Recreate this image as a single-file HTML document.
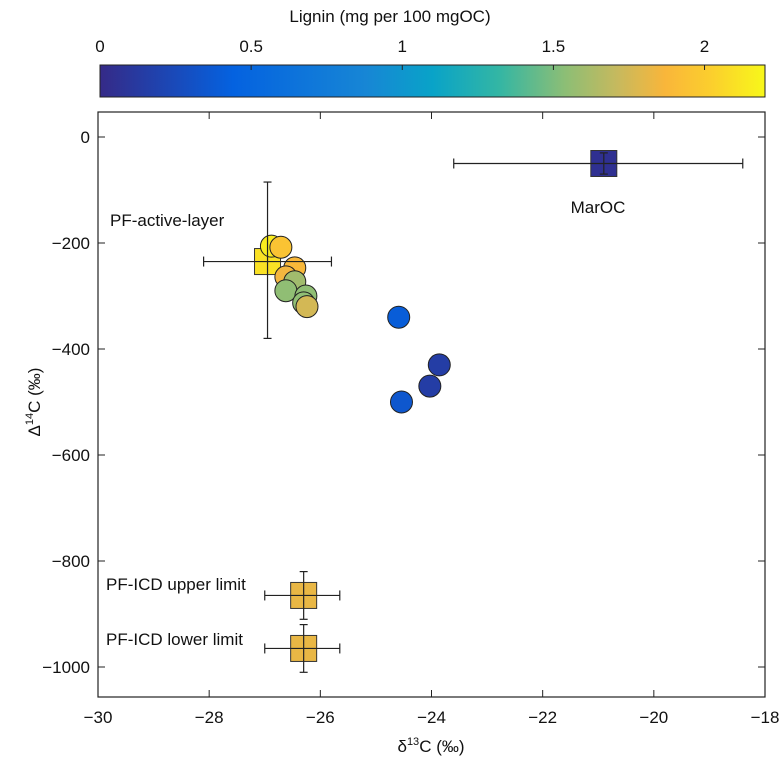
<!DOCTYPE html>
<html><head><meta charset="utf-8"><style>
body{margin:0;background:#fff;font-family:"Liberation Sans",sans-serif;}
svg text{font-family:"Liberation Sans",sans-serif;fill:#111;}
</style></head><body>
<svg id="chart" width="781" height="771" xmlns="http://www.w3.org/2000/svg">
<defs><linearGradient id="parula" x1="0" x2="1" y1="0" y2="0">
<stop offset="0" stop-color="#352a87"/><stop offset="0.2" stop-color="#0462e0"/><stop offset="0.4" stop-color="#1786d5"/><stop offset="0.5" stop-color="#09a3c8"/><stop offset="0.6" stop-color="#33b6a4"/><stop offset="0.7" stop-color="#8dbe75"/><stop offset="0.78" stop-color="#c8b95d"/><stop offset="0.85" stop-color="#f9b63a"/><stop offset="0.92" stop-color="#fbcf2d"/><stop offset="1" stop-color="#f8f81a"/>
</linearGradient></defs>
<text x="390" y="22" font-size="17" text-anchor="middle">Lignin (mg per 100 mgOC)</text>
<g id="cbar"></g>
<g id="plot"></g>
<text x="431" y="752" font-size="17" text-anchor="middle">δ<tspan font-size="11" dy="-7">13</tspan><tspan dy="7">C (‰)</tspan></text>
<text transform="translate(40,402) rotate(-90)" font-size="17" text-anchor="middle">Δ<tspan font-size="11" dy="-7">14</tspan><tspan dy="7">C (‰)</tspan></text>
</svg>
<script>
const circX=[-26.88,-26.71,-26.46,-26.62,-26.46,-26.62,-26.26,-26.30,-26.24,-24.59,-23.86,-24.03,-24.54];
const circY=[-206,-208,-247,-264,-273,-290,-300,-313,-320,-340,-430,-470,-500];
const circL=[2.15,1.95,1.88,1.85,1.6,1.55,1.55,1.55,1.75,0.4,0.15,0.15,0.35];
const sqNames=["marOC","pf-active-layer","pf-icd-upper","pf-icd-lower"];
const sqX=[-20.9,-26.95,-26.3,-26.3];
const sqY=[-50,-235,-865,-965];
const sqL=[0.05,2.1,1.82,1.82];
const sqXlo=[-23.6,-28.1,-27.0,-27.0];
const sqXhi=[-18.4,-25.8,-25.65,-25.65];
const sqYlo=[-70,-380,-910,-1010];
const sqYhi=[-30,-85,-820,-920];
const xTicks=[-30,-28,-26,-24,-22,-20,-18];
const yTicks=[0,-200,-400,-600,-800,-1000];
const cTicks=[0,0.5,1,1.5,2];
const cMax=2.2;
const NS="http://www.w3.org/2000/svg";
const X0=98,X1=765,Y0=112,Y1=697;
const sx=v=>X0+(v+30)/12*(X1-X0);
const sy=v=>137+(0-v)*0.53;
const cx=v=>100+v/cMax*(765-100);
const stops=[[0,"#352a87"],[0.2,"#0462e0"],[0.4,"#1786d5"],[0.5,"#09a3c8"],[0.6,"#33b6a4"],[0.7,"#8dbe75"],[0.78,"#c8b95d"],[0.85,"#f9b63a"],[0.92,"#fbcf2d"],[1,"#f8f81a"]];
function col(l){let t=Math.max(0,Math.min(1,l/cMax));for(let i=1;i<stops.length;i++){if(t<=stops[i][0]){const a=stops[i-1],b=stops[i];const f=(t-a[0])/(b[0]-a[0]);const pa=[1,3,5].map(k=>parseInt(a[1].substr(k,2),16)),pb=[1,3,5].map(k=>parseInt(b[1].substr(k,2),16));return "rgb("+pa.map((v,j)=>Math.round(v+(pb[j]-v)*f)).join(",")+")";}}return stops[stops.length-1][1];}
function mk(p,tag,at){const e=document.createElementNS(NS,tag);for(const k in at)e.setAttribute(k,at[k]);p.appendChild(e);return e;}
const cb=document.getElementById('cbar');
let r=mk(cb,'rect',{x:100,y:65,width:665,height:32,fill:'url(#parula)',stroke:'#222','stroke-width':1});


cTicks.forEach(v=>{const t=mk(cb,'text',{x:cx(v),y:52,'font-size':17,'text-anchor':'middle'});t.textContent=v;


mk(cb,'line',{x1:cx(v),x2:cx(v),y1:65,y2:70,stroke:'#222'});});
const g=document.getElementById('plot');
const fr=mk(g,'rect',{x:X0,y:Y0,width:X1-X0,height:Y1-Y0,fill:'none',stroke:'#222','stroke-width':1.2});


xTicks.forEach(v=>{mk(g,'line',{x1:sx(v),x2:sx(v),y1:Y1,y2:Y1-7,stroke:'#222'});mk(g,'line',{x1:sx(v),x2:sx(v),y1:Y0,y2:Y0+7,stroke:'#222'});
const t=mk(g,'text',{x:sx(v),y:Y1+26,'font-size':17,'text-anchor':'middle'});t.textContent=v<0?'\u2212'+(-v):v;

});
yTicks.forEach(v=>{mk(g,'line',{x1:X0,x2:X0+7,y1:sy(v),y2:sy(v),stroke:'#222'});mk(g,'line',{x1:X1,x2:X1-7,y1:sy(v),y2:sy(v),stroke:'#222'});
const t=mk(g,'text',{x:X0-8,y:sy(v)+6,'font-size':17,'text-anchor':'end'});t.textContent=v<0?'\u2212'+(-v):v;

});
sqX.forEach((x,i)=>{const s=mk(g,'rect',{x:sx(x)-13,y:sy(sqY[i])-13,width:26,height:26,fill:col(sqL[i]),stroke:'#333','stroke-width':1});

});
circX.forEach((x,i)=>{const c=mk(g,'circle',{cx:sx(x),cy:sy(circY[i]),r:11,fill:col(circL[i]),stroke:'#222','stroke-width':1});

});
sqX.forEach((x,i)=>{const e=mk(g,'g',{stroke:'#222','stroke-width':1.2,fill:'none'});


const X=sx(x),Y=sy(sqY[i]);
mk(e,'line',{x1:sx(sqXlo[i]),x2:sx(sqXhi[i]),y1:Y,y2:Y});
mk(e,'line',{x1:sx(sqXlo[i]),x2:sx(sqXlo[i]),y1:Y-5,y2:Y+5});
mk(e,'line',{x1:sx(sqXhi[i]),x2:sx(sqXhi[i]),y1:Y-5,y2:Y+5});
mk(e,'line',{x1:X,x2:X,y1:sy(sqYlo[i]),y2:sy(sqYhi[i])});
mk(e,'line',{x1:X-4,x2:X+4,y1:sy(sqYlo[i]),y2:sy(sqYlo[i])});
mk(e,'line',{x1:X-4,x2:X+4,y1:sy(sqYhi[i]),y2:sy(sqYhi[i])});});
const labels=[["MarOC",598,213,"middle","maroc-label"],["PF-active-layer",110,226,"start","pf-active-layer-label"],["PF-ICD upper limit",106,590,"start","pf-icd-upper-label"],["PF-ICD lower limit",106,645,"start","pf-icd-lower-label"]];
labels.forEach(l=>{const t=mk(g,'text',{x:l[1],y:l[2],'font-size':17,'text-anchor':l[3]});t.textContent=l[0];

});
</script>
</body></html>
